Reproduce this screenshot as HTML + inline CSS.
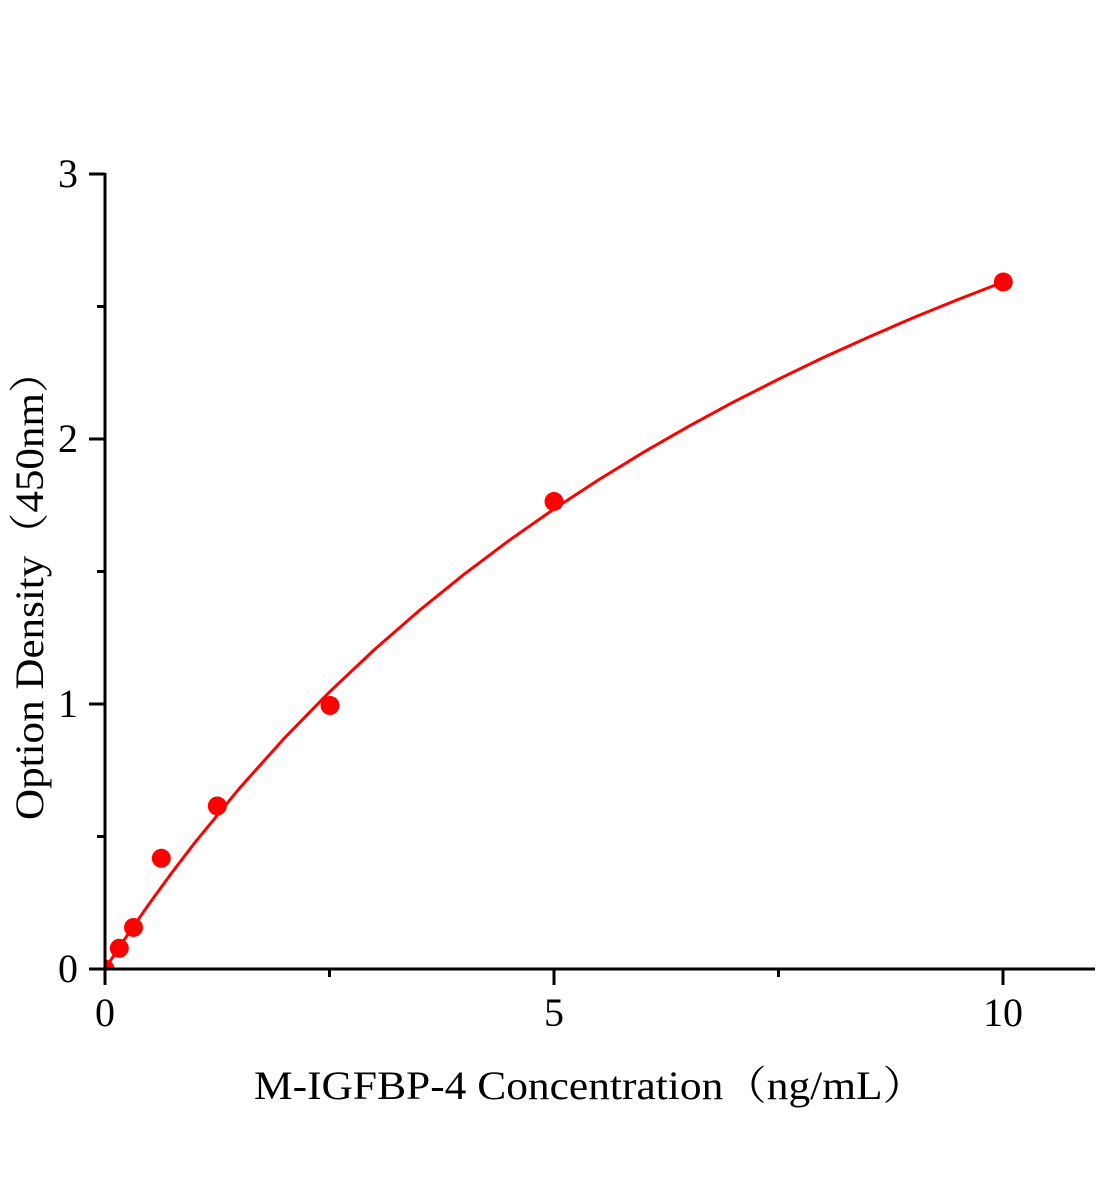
<!DOCTYPE html>
<html>
<head>
<meta charset="utf-8">
<style>
  html, body { margin: 0; padding: 0; background: #ffffff; }
  svg { display: block; }
  text { font-family: "Liberation Serif", "Noto Serif CJK SC", serif; fill: #000; }
</style>
</head>
<body>
<svg width="1104" height="1200" viewBox="0 0 1104 1200" xmlns="http://www.w3.org/2000/svg">
  <defs>
    <clipPath id="plot">
      <rect x="105" y="150" width="1000" height="819"/>
    </clipPath>
  </defs>
  <rect x="0" y="0" width="1104" height="1200" fill="#ffffff"/>

  <g clip-path="url(#plot)">
    <!-- fitted curve -->
    <polyline fill="none" stroke="#ff0000" stroke-width="3" stroke-linejoin="round" stroke-linecap="round"
      points="105,969 113.98,955.21 127.45,935.05 149.9,902.76 172.35,872.01 194.8,842.70 239.7,787.98 284.6,737.93 329.5,691.97 374.4,649.62 419.3,610.48 464.2,574.18 509.1,540.44 554,508.98 598.9,479.6 643.8,452.07 688.7,426.3 733.6,401.97 778.5,379.2 823.4,357.51 868.3,337.2 913.2,317.80 958.1,299.5 1003,282.12"/>

    <!-- data points -->
    <g fill="#ff0000">
      <circle cx="105" cy="969" r="9.5"/>
      <circle cx="119.3" cy="948.3" r="9.5"/>
      <circle cx="133.5" cy="927.5" r="9.5"/>
      <circle cx="161.3" cy="858.3" r="9.5"/>
      <circle cx="217.3" cy="806" r="9.5"/>
      <circle cx="330" cy="705.5" r="9.5"/>
      <circle cx="554" cy="501.5" r="9.5"/>
      <circle cx="1003.3" cy="282" r="9.5"/>
    </g>
  </g>

  <!-- axes -->
  <g stroke="#000" stroke-width="3" fill="none">
    <line x1="105" y1="173" x2="105" y2="985"/>
    <line x1="89" y1="969" x2="1095" y2="969"/>
    <!-- y major ticks -->
    <line x1="89" y1="174" x2="105" y2="174"/>
    <line x1="89" y1="439" x2="105" y2="439"/>
    <line x1="89" y1="704" x2="105" y2="704"/>
    <!-- y minor ticks -->
    <line x1="97" y1="306.5" x2="105" y2="306.5"/>
    <line x1="97" y1="571.5" x2="105" y2="571.5"/>
    <line x1="97" y1="836.5" x2="105" y2="836.5"/>
    <!-- x major ticks -->
    <line x1="554" y1="969" x2="554" y2="985"/>
    <line x1="1003" y1="969" x2="1003" y2="985"/>
    <!-- x minor ticks -->
    <line x1="329.5" y1="969" x2="329.5" y2="977"/>
    <line x1="778.5" y1="969" x2="778.5" y2="977"/>
  </g>

  <!-- y tick labels -->
  <g font-size="40" text-anchor="end">
    <text x="78" y="187">3</text>
    <text x="78" y="452">2</text>
    <text x="78" y="717">1</text>
    <text x="78" y="982">0</text>
  </g>

  <!-- x tick labels -->
  <g font-size="40" text-anchor="middle">
    <text x="105" y="1026">0</text>
    <text x="554" y="1026">5</text>
    <text x="1003" y="1026">10</text>
  </g>

  <!-- axis titles -->
  <text x="254" y="1099" font-size="40" textLength="672" lengthAdjust="spacingAndGlyphs">M-IGFBP-4 Concentration（ng/mL）</text>
  <text transform="translate(43,820) rotate(-90)" x="0" y="0" font-size="40" textLength="470" lengthAdjust="spacingAndGlyphs">Option Density（450nm）</text>
</svg>
</body>
</html>
